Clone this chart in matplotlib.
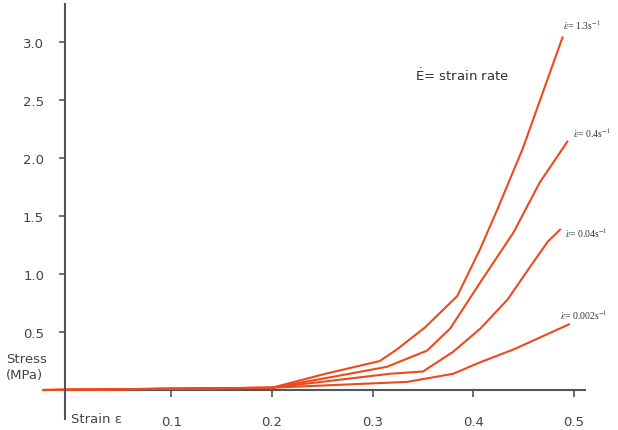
import matplotlib.pyplot as plt

# strain / stress, one pair of lists per strain rate
strain_13 = [-0.028, 0.2, 0.253, 0.307, 0.324, 0.352, 0.384, 0.407, 0.424, 0.449, 0.489]
stress_13 = [0.0, 0.02, 0.14, 0.25, 0.35, 0.54, 0.81, 1.22, 1.56, 2.08, 3.05]

strain_04 = [-0.028, 0.2, 0.258, 0.314, 0.354, 0.377, 0.407, 0.44, 0.466, 0.494]
stress_04 = [0.0, 0.02, 0.11, 0.2, 0.34, 0.53, 0.93, 1.36, 1.79, 2.15]

strain_004 = [-0.028, 0.2, 0.317, 0.35, 0.38, 0.407, 0.434, 0.457, 0.474, 0.487]
stress_004 = [0.0, 0.02, 0.14, 0.16, 0.33, 0.53, 0.78, 1.07, 1.28, 1.39]

strain_0002 = [-0.028, 0.2, 0.334, 0.38, 0.407, 0.44, 0.496]
stress_0002 = [0.0, 0.02, 0.07, 0.14, 0.24, 0.35, 0.57]

rate_labels = [r'$\dot{\varepsilon}$= 1.3s$^{-1}$', r'$\dot{\varepsilon}$= 0.4s$^{-1}$',
               r'$\dot{\varepsilon}$= 0.04s$^{-1}$', r'$\dot{\varepsilon}$= 0.002s$^{-1}$']
x_ticks = [0.1, 0.2, 0.3, 0.4, 0.5]
y_ticks = [0.5, 1.0, 1.5, 2.0, 2.5, 3.0]

line_col = '#ec4a1c'
axis_col = '#555555'
text_col = '#444444'

fig = plt.figure(figsize=(6.18, 4.31), dpi=100)
ax = fig.add_axes([65 / 618, 11 / 431, 520 / 618, 415 / 431])

curves = [(strain_13, stress_13), (strain_04, stress_04),
          (strain_004, stress_004), (strain_0002, stress_0002)]
for xs, ys in curves:
    ax.plot(xs, ys, color=line_col, linewidth=1.5, clip_on=False, solid_capstyle='butt')

# labels at the end of each curve
label_pos = [(0.489, 3.155), (0.499, 2.22), (0.491, 1.36), (0.486, 0.655)]
for lab, (lx, ly) in zip(rate_labels, label_pos):
    ax.text(lx, ly, lab, fontsize=7, color='#333333', family='Liberation Serif',
            math_fontfamily='stix', va='center', ha='left', clip_on=False)

ax.text(0.342, 2.72, r'$\dot{\mathrm{E}}$= strain rate', fontsize=9.5, color='#333333',
        va='center', ha='left')

ax.set_xlim(-0.0058, 0.511)
ax.set_ylim(-0.25, 3.33)

for side in ['top', 'right']:
    ax.spines[side].set_visible(False)
ax.spines['bottom'].set_position(('data', 0))
ax.spines['bottom'].set_color(axis_col)
ax.spines['bottom'].set_linewidth(1.5)
ax.spines['left'].set_color(axis_col)
ax.spines['left'].set_linewidth(1.5)
ax.spines['bottom'].set_zorder(1)

ax.set_xticks(x_ticks)
ax.set_xticklabels(['%.1f' % v for v in x_ticks])
ax.set_yticks(y_ticks)
ax.set_yticklabels(['%.1f' % v for v in y_ticks])
ax.tick_params(axis='x', direction='out', length=5, width=1.2, color=axis_col,
               pad=13, labelsize=9.5, labelcolor=text_col)
ax.tick_params(axis='y', direction='out', length=4, width=1.2, color=axis_col,
               pad=11, labelsize=9.5, labelcolor=text_col)

ax.text(0.0, -0.25, 'Strain ε', fontsize=9.5, color=text_col,
        va='center', ha='left', clip_on=False)
fig.text(6 / 618, 1 - 368 / 431, 'Stress\n(MPa)', fontsize=9.5, color=text_col,
         va='center', ha='left', linespacing=1.3)

fig.savefig('out.png', dpi=100)
